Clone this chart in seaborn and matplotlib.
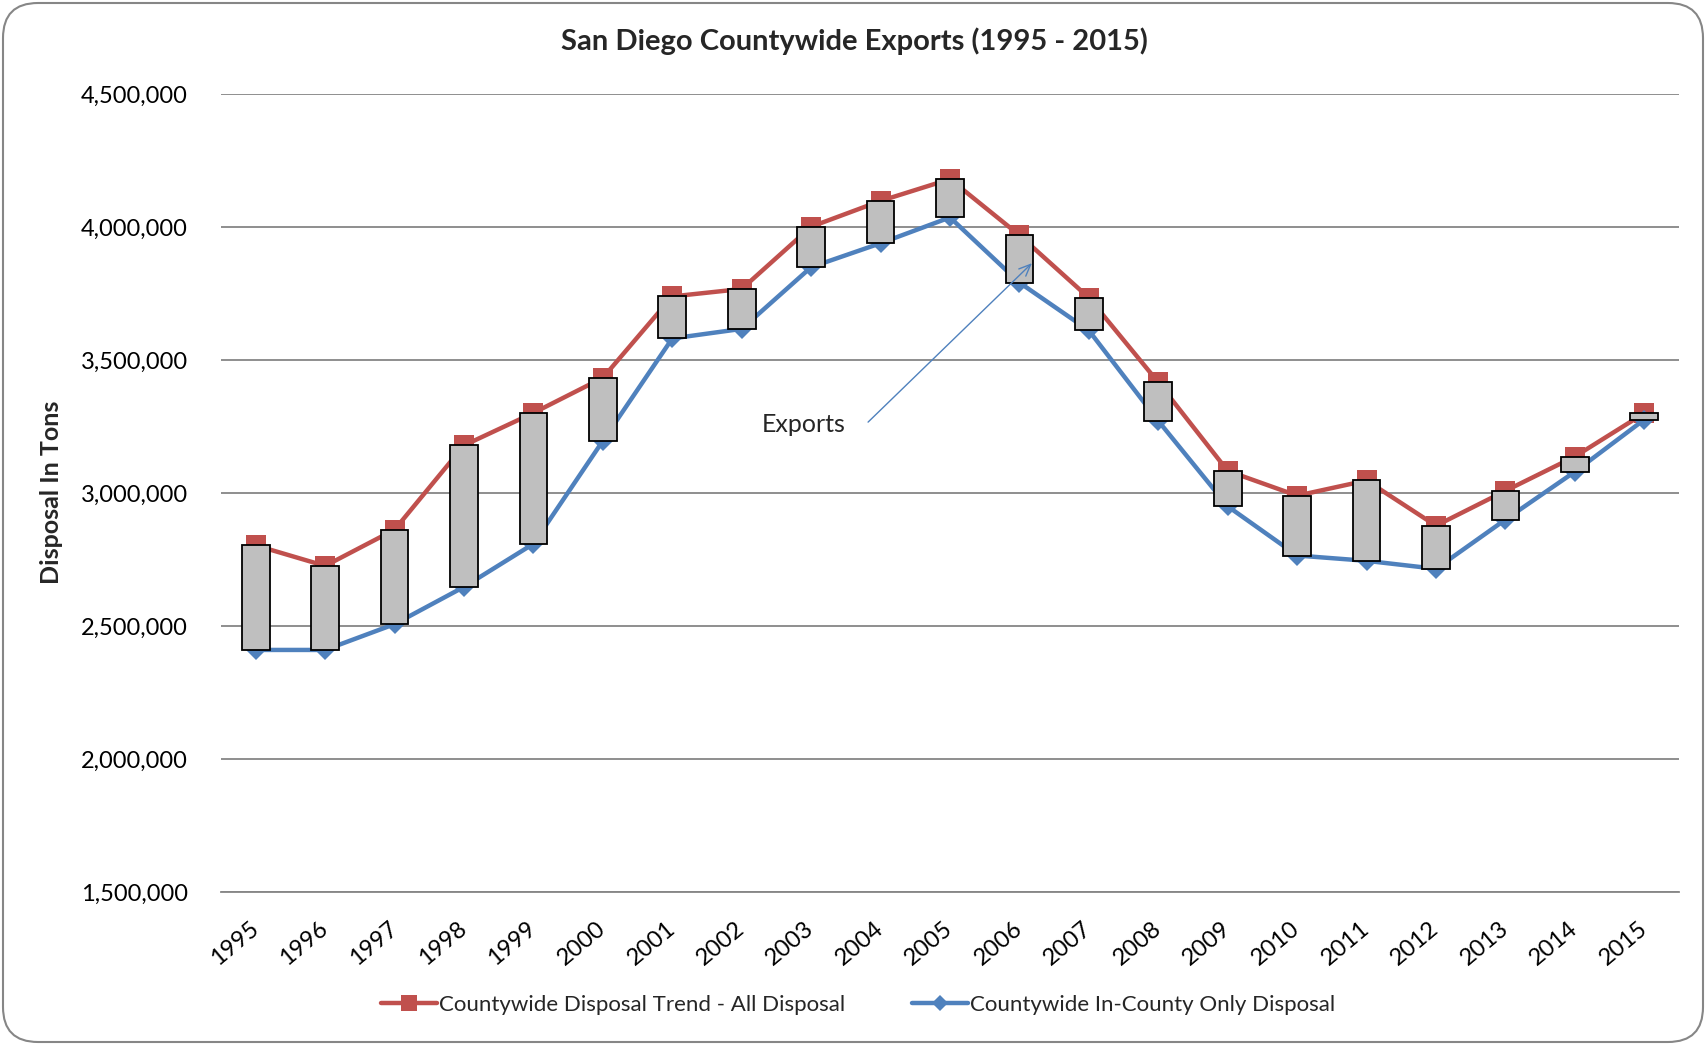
import matplotlib
matplotlib.use("Agg")
import matplotlib.pyplot as plt
from matplotlib.lines import Line2D
from matplotlib.patches import FancyBboxPatch
from matplotlib.ticker import FuncFormatter, FixedLocator
import numpy as np
import pandas as pd
import seaborn as sns

# values (tons)
years = ["1995", "1996", "1997", "1998", "1999", "2000", "2001", "2002", "2003", "2004", "2005",
         "2006", "2007", "2008", "2009", "2010", "2011", "2012", "2013", "2014", "2015"]
all_disposal = [2803000, 2726000, 2862000, 3179000, 3301000, 3433000, 3739000, 3767000, 4001000,
                4098000, 4180000, 3969000, 3734000, 3416000, 3083000, 2990000, 3047000, 2877000,
                3008000, 3137000, 3300000]
in_county = [2410000, 2410000, 2507000, 2647000, 2809000, 3196000, 3581000, 3617000, 3849000,
             3939000, 4036000, 3791000, 3611000, 3271000, 2950000, 2765000, 2745000, 2715000,
             2900000, 3080000, 3276000]
y_ticks = [1500000, 2000000, 2500000, 3000000, 3500000, 4000000, 4500000]

RED = "#C0504D"
BLUE = "#4F81BD"
GRID = "#868686"

sns.set_theme(style="white")
plt.rcParams["font.family"] = ["Lato", "DejaVu Sans"]

df = pd.DataFrame({"pos": np.arange(len(years)), "year": years,
                   "all": all_disposal, "incounty": in_county})

fig = plt.figure(figsize=(17.06, 10.45), dpi=100)
ax = fig.add_axes([221 / 1706, 1 - 892 / 1045, (1679 - 221) / 1706, (892 - 94) / 1045])

sns.lineplot(data=df, x="pos", y="all", ax=ax, color=RED, lw=3.2, marker="s", markersize=14,
             markeredgewidth=0, zorder=2)
sns.lineplot(data=df, x="pos", y="incounty", ax=ax, color=BLUE, lw=3.2, marker="D", markersize=10,
             markeredgewidth=0, zorder=2)

# up-down bars = exports
ax.bar(df["pos"], df["all"] - df["incounty"], bottom=df["incounty"], width=0.40,
       color="#BFBFBF", edgecolor="black", linewidth=1.3, zorder=3)

ax.set_xlim(-0.5, len(years) - 0.5)
ax.set_ylim(1500000, 4500000)
ax.set_yticks(y_ticks)
ax.yaxis.set_major_formatter(FuncFormatter(lambda v, p: f"{int(v):,}"))
ax.set_xticks(df["pos"])
ax.set_xticklabels(years, rotation=40, ha="right", va="center", rotation_mode="anchor")
ax.xaxis.set_minor_locator(FixedLocator([len(years) - 0.5]))

ax.grid(axis="y", color=GRID, lw=1.3)
ax.grid(axis="x", visible=False)
for s in ["left", "top", "right"]:
    ax.spines[s].set_visible(False)
ax.spines["bottom"].set_color(GRID)
ax.spines["bottom"].set_linewidth(1.3)
ax.spines["bottom"].set_zorder(4)

ax.tick_params(axis="y", length=0, pad=24, labelsize=17, labelcolor="black")
ax.tick_params(axis="x", which="both", direction="in", length=4.5, width=1.2, color=GRID,
               pad=24, labelsize=17, labelcolor="black")
ax.set_xlabel("")
ax.set_ylabel("")

# annotation
ax.text(7.886, 3259000, "Exports", ha="center", va="center", fontsize=18, zorder=5)
ax.annotate("", xy=(11.18, 3864000), xytext=(8.82, 3266500),
            arrowprops=dict(arrowstyle="->,head_length=0.7,head_width=0.3", color=BLUE, lw=1.0,
                            shrinkA=0, shrinkB=0), zorder=5)

fig.text(0.5006, 1 - 41 / 1045, "San Diego Countywide Exports (1995 - 2015)", ha="center",
         va="center", fontsize=21, fontweight="bold")
fig.text(52 / 1706, 1 - 492 / 1045, "Disposal In Tons", rotation=90, ha="center", va="center",
         fontsize=18, fontweight="bold")

handles = [Line2D([], [], color=RED, lw=3.2, marker="s", markersize=11, markeredgewidth=0),
           Line2D([], [], color=BLUE, lw=3.2, marker="D", markersize=8, markeredgewidth=0)]
fig.legend(handles, ["Countywide Disposal Trend - All Disposal", "Countywide In-County Only Disposal"],
           loc="center", bbox_to_anchor=(0.503, 1 - 1005 / 1045), ncol=2, frameon=False,
           fontsize=16, handlelength=2.5, handletextpad=0.1, columnspacing=3.0)

# rounded chart border
border = FancyBboxPatch((0.03, 0.03), 17.0, 10.39, boxstyle="round,pad=0,rounding_size=0.35",
                        transform=fig.dpi_scale_trans, fill=False, edgecolor=GRID, lw=1.5)
fig.patches.append(border)

fig.savefig("out.png", dpi=100)
